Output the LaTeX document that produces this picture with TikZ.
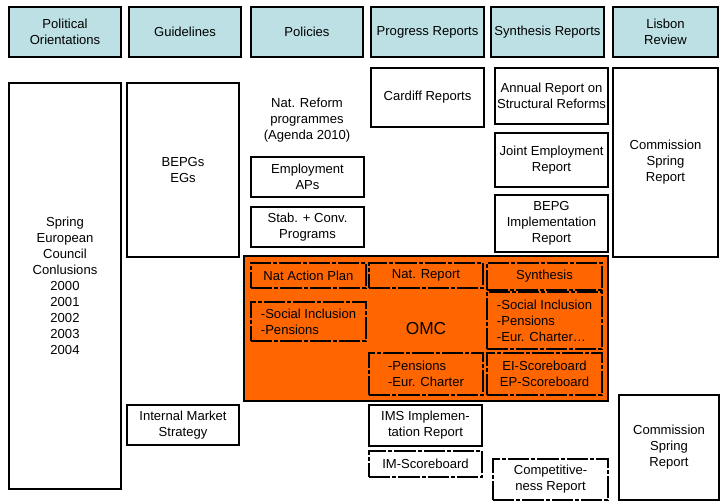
\documentclass[tikz,border=0pt]{standalone}
\usepackage{fontspec}
\setmainfont{Liberation Sans}
\usepackage{tikz}
\definecolor{headcyan}{RGB}{188,224,228}
\definecolor{omcorange}{RGB}{255,102,0}

\begin{document}
\begin{tikzpicture}[x=0.75pt,y=-0.75pt,
  every node/.style={font=\fontsize{9.8}{12}\selectfont,align=center},
  area/.style args={#1/#2/#3/#4}{at={({(#1+#3)/2},{(#2+#4)/2})},
    minimum width={(#3-#1)*0.75pt},minimum height={(#4-#2)*0.75pt}},
  box/.style={draw,line width=1pt,inner sep=0pt},
  head/.style={box,line width=1.1pt,fill=headcyan},
  dbox/.style={draw,line width=1.7pt,inner sep=0pt,dash pattern=on 16pt off 1.5pt on 3pt off 1.5pt},
  lst/.style={dbox,align=left}]
\useasboundingbox (0,0) rectangle (721,503);
% column heads
\node[head,area=9/7/121/57] (hpol) {Political\\Orientations};
\node[head,area=129/7/241/57] (hguide) {Guidelines};
\node[head,area=251/7/363/57] (hpolicy) {Policies};
\node[head,area=371/7/484/57] (hprog) {Progress Reports};
\node[head,area=491/7/604/57] (hsynth) {Synthesis Reports};
\node[head,area=613/7/718/57] (hlisbon) {Lisbon\\Review};
% left columns
\node[box,area=9/83/121/489] (spring) {Spring\\European\\Council\\Conlusions\\2000\\2001\\2002\\2003\\2004};
\node[box,area=127/83/239/257] (bepg) {BEPGs\\EGs};
\node[box,area=127/405/239/445] (ims) {Internal Market\\Strategy};
% policies / progress / synthesis
\node at (307,120) (natref) {Nat. Reform\\programmes\\(Agenda 2010)};
\node[box,area=251/157/364/197] (empl) {Employment\\APs};
\node[box,area=251/207/364/247] (stab) {Stab. + Conv.\\Programs};
\node[box,area=371/68/484/127] (cardiff) {Cardiff Reports};
\node[box,area=495/68/608/124] (annual) {Annual Report on\\Structural Reforms};
\node[box,area=495/133/608/187] (joint) {Joint Employment\\Report};
\node[box,area=495/195/608/252] (bepgimpl) {BEPG\\Implementation\\Report};
\node[box,area=613/68/718/257] (csr1) {Commission\\Spring\\Report};
% OMC block
\node[draw,line width=0.8pt,fill=omcorange,inner sep=0pt,area=244/256/608/401,font=\fontsize{13}{15}\selectfont] (omc) {OMC};
\node[dbox,area=251/263/366/288] (nap) {Nat Action Plan};
\node[dbox,area=369/263/483/288] (natrep) {Nat. Report};
\node[dbox,area=487/263/602/290] (synth) {Synthesis};
\node[lst,area=251/302/366/341] (napl) {-Social Inclusion\\-Pensions};
\node[lst,area=487/292/602/349] (synthl) {-Social Inclusion\\-Pensions\\-Eur. Charter\dots};
\node[lst,area=369/353/483/395] (natrepl) {-Pensions\\-Eur. Charter};
\node[dbox,area=487/353/602/395] (score) {EI-Scoreboard\\EP-Scoreboard};
% below
\node[box,area=369/405/482/446] (imsrep) {IMS Implemen-\\tation Report};
\node[dbox,area=369/451/482/477] (imscore) {IM-Scoreboard};
\node[dbox,area=493/459/608/500] (compet) {Competitive-\\ness Report};
\node[box,area=619/395/719/500] (csr2) {Commission\\Spring\\Report};
\end{tikzpicture}
\end{document}
